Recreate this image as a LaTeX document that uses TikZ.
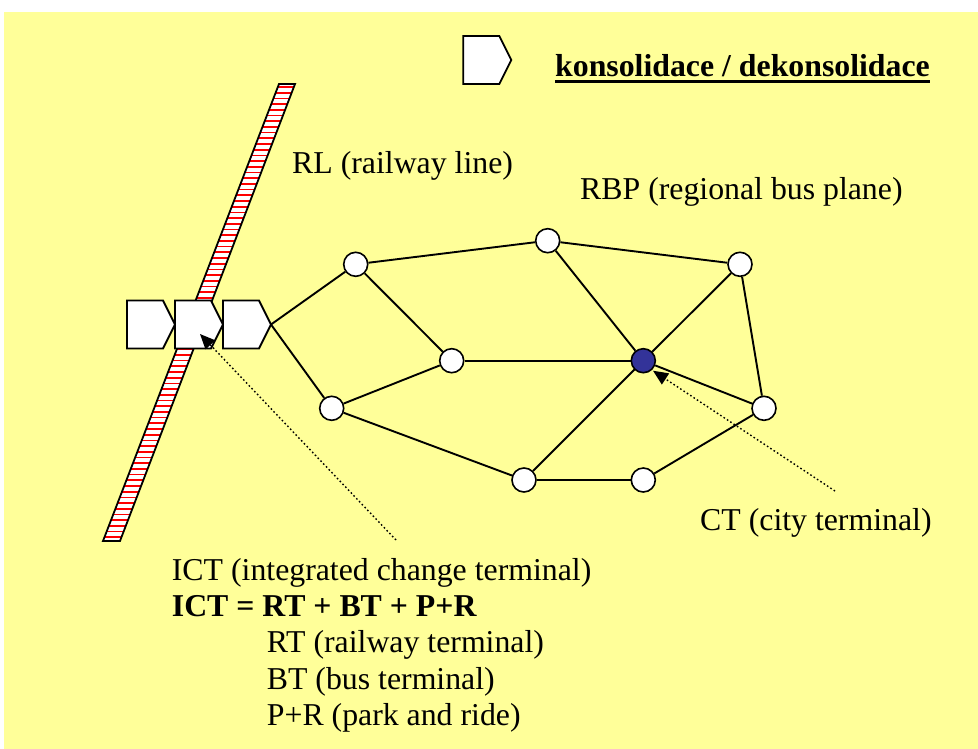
\documentclass[tikz,border=0pt]{standalone}
\usepackage{fontspec}
\setmainfont{Liberation Serif}
\usetikzlibrary{arrows.meta}
\definecolor{paper}{HTML}{FFFF99}
\definecolor{hub}{HTML}{333399}
\tikzset{
  edge/.style={line width=1.9pt, black},
  stop/.style={circle, draw=black, line width=1.6pt, fill=white, minimum size=24pt, inner sep=0pt},
  hubstop/.style={stop, fill=hub},
  termbox/.style={draw=black, line width=1.8pt, fill=white, line join=miter},
  terminal/.pic={
    \draw[termbox] (0,0) -- (36,0) -- (48,24) -- (36,48) -- (0,48) -- cycle;
    \coordinate (-tip) at (48,24);
  },
  pointer/.style={line width=1.4pt, dash pattern=on 1.6pt off 2.4pt,
    -{Triangle[length=15pt,width=13pt]}},
  lbl/.style={anchor=base west, inner sep=0pt, font=\fontsize{31.8}{38}\selectfont},
}
\begin{document}
\begin{tikzpicture}[x=1pt,y=-1pt]
  \useasboundingbox (0,0) rectangle (978,749);
  \fill[white] (0,0) rectangle (978,749);
  \fill[paper] (4,12) rectangle (978,749);

  % railway line: striped band
  \begin{scope}
    \clip (279,84) -- (295,84) -- (120,541) -- (103,541) -- cycle;
    \fill[white] (90,80) rectangle (300,545);
    \foreach \k in {0,...,80}
      \draw[red, line width=1.7pt] (90,{87+5.7*\k}) -- (300,{87+5.7*\k});
  \end{scope}
  \draw[line width=1.8pt, line join=miter] (279,84) -- (295,84) -- (120,541) -- (103,541) -- cycle;

  % terminals (RT, BT, P+R) and legend symbol
  \pic (p1) at (127,300.5) {terminal};
  \pic (p2) at (175,300.5) {terminal};
  \pic (p3) at (223,300.5) {terminal};
  \pic (pleg) at (463.3,36) {terminal};

  % legend text
  \node[lbl] (leg) at (555,76.7) {\bfseries konsolidace / dekonsolidace};
  \draw[line width=3pt] ([yshift=-5pt]leg.base west) -- ([yshift=-5pt]leg.base east);

  % bus network stops
  \node[stop] (A) at (355.7,264.3) {};
  \node[stop] (B) at (547.7,240.7) {};
  \node[stop] (C) at (740,264.3) {};
  \node[stop] (D) at (451.7,360.7) {};
  \node[hubstop] (E) at (643.3,360.7) {};
  \node[stop] (F) at (331.7,408.3) {};
  \node[stop] (G) at (764,408.3) {};
  \node[stop] (H) at (524,480) {};
  \node[stop] (I) at (643.3,480) {};

  % bus links
  \draw[edge] (p3-tip) -- (A);
  \draw[edge] (p3-tip) -- (F);
  \draw[edge] (A) -- (B);
  \draw[edge] (B) -- (C);
  \draw[edge] (A) -- (D);
  \draw[edge] (D) -- (F);
  \draw[edge] (D) -- (E);
  \draw[edge] (B) -- (E);
  \draw[edge] (C) -- (E);
  \draw[edge] (C) -- (G);
  \draw[edge] (G) -- (E);
  \draw[edge] (F) -- (H);
  \draw[edge] (E) -- (H);
  \draw[edge] (H) -- (I);
  \draw[edge] (I) -- (G);

  % labels
  \node[lbl] (rl) at (292,173.3) {RL (railway line)};
  \node[lbl] (rbp) at (580,199.3) {RBP (regional bus plane)};
  \node[lbl] (ct) at (700,530.7) {CT (city terminal)};
  \node[lbl] (ict1) at (171.7,580.7) {ICT (integrated change terminal)};
  \node[lbl] (ict2) at (171.7,616.7) {\bfseries ICT = RT + BT + P+R};
  \node[lbl] (rt) at (266.7,652.7) {RT (railway terminal)};
  \node[lbl] (bt) at (266.7,689) {BT (bus terminal)};
  \node[lbl] (pr) at (266.7,725.5) {P+R (park and ride)};

  % pointers
  \coordinate (ictfoot) at (396,540);
  \coordinate (icthead) at (200,334);
  \coordinate (ctfoot) at (835,491);
  \coordinate (cthead) at (653,370.7);
  \draw[pointer] (ictfoot) -- (icthead);
  \draw[pointer] (ctfoot) -- (cthead);
\end{tikzpicture}
\end{document}
